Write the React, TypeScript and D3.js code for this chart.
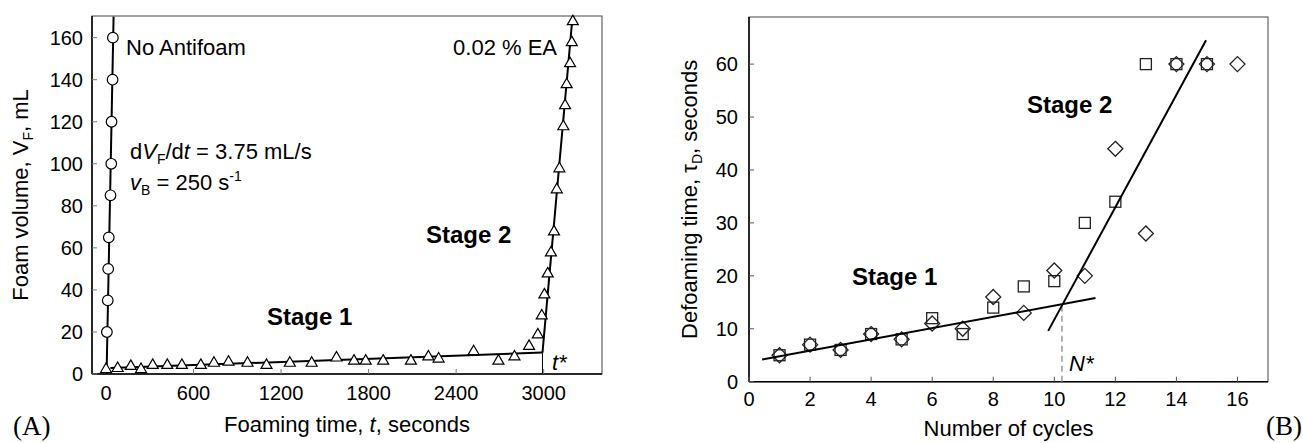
import React from "react";
import * as d3 from "d3";

// ---------- Panel A data ----------
const noAfTime = [6, 12, 15, 19, 31, 36, 38, 45, 47];
const noAfVol = [20, 35, 50, 65, 85, 100, 120, 140, 160];
const noAfFitT = [4, 52];
const noAfFitV = [0, 170];

const eaTime = [0, 80, 170, 240, 320, 420, 520, 650, 740, 840, 970, 1100, 1260, 1410, 1580, 1700, 1780, 1900, 2090, 2210, 2280, 2520, 2690, 2800, 2900, 2960, 2987, 3005, 3028, 3050, 3071, 3090, 3108, 3135, 3147, 3158, 3181, 3193, 3200];
const eaVol = [2.5, 3, 4, 2.5, 4.5, 4.5, 4.5, 4.5, 5.5, 6, 5.5, 4.5, 5.5, 5.5, 8, 6.5, 6.5, 6.5, 6.5, 8.5, 7.5, 11, 6.5, 8.5, 13.5, 19, 28, 38, 48, 58, 68, 88, 98, 118, 128, 138, 148, 158, 168];
const stage1FitT = [30, 2992];
const stage1FitV = [2.8, 10.2];
const stage2FitT = [2992, 3198];
const stage2FitV = [10.2, 170];
const tStarT = [2992, 2992];
const tStarV = [0, 10.2];

const xTicksA = [0, 600, 1200, 1800, 2400, 3000];
const yTicksA = [0, 20, 40, 60, 80, 100, 120, 140, 160];

// ---------- Panel B data ----------
const sqCycles = [1, 2, 3, 4, 5, 6, 7, 8, 9, 10, 11, 12, 13, 14, 15];
const sqTime = [5, 7, 6, 9, 8, 12, 9, 14, 18, 19, 30, 34, 60, 60, 60];
const diCycles = [1, 2, 3, 4, 5, 6, 7, 8, 9, 10, 11, 12, 13, 14, 15, 16];
const diTime = [5, 7, 6, 9, 8, 11, 10, 16, 13, 21, 20, 44, 28, 60, 60, 60];
const bStage1N = [0.43, 11.35];
const bStage1T = [4.2, 15.8];
const bStage2N = [9.8, 14.97];
const bStage2T = [9.6, 64.5];
const nStarN = [10.25, 10.25];
const nStarT = [0, 14.7];

const xTicksB = [0, 2, 4, 6, 8, 10, 12, 14, 16];
const yTicksB = [0, 10, 20, 30, 40, 50, 60];

const FONT = "Liberation Sans, Arial, Helvetica, sans-serif";

export default function App() {
  // Panel A geometry
  const aL = 92, aR = 602, aT = 16, aB = 374;
  const xA = d3.scaleLinear().domain([-96, 3400]).range([aL, aR]);
  const yA = d3.scaleLinear().domain([0, 170.3]).range([aB, aT]);

  // Panel B geometry
  const bL = 749, bR = 1268, bT = 17, bB = 381.7;
  const xB = d3.scaleLinear().domain([0, 17]).range([bL, bR]);
  const yB = d3.scaleLinear().domain([0, 68.9]).range([bB, bT]);

  const lineA = d3.line<[number, number]>().x((d) => xA(d[0])).y((d) => yA(d[1]));
  const lineB = d3.line<[number, number]>().x((d) => xB(d[0])).y((d) => yB(d[1]));
  const zip = (a: number[], b: number[]) => a.map((v, i) => [v, b[i]] as [number, number]);

  const tri = (cx: number, cy: number) => {
    const h = 9.5, w = 11;
    return `M${cx},${cy - h * 0.6} L${cx + w / 2},${cy + h * 0.4} L${cx - w / 2},${cy + h * 0.4} Z`;
  };
  const diamond = (cx: number, cy: number) => {
    const r = 7.5;
    return `M${cx},${cy - r} L${cx + r},${cy} L${cx},${cy + r} L${cx - r},${cy} Z`;
  };

  const tickFs = 20;
  const labFs = 22;

  return (
    <svg width={1303} height={443} style={{ position: "absolute", left: 0, top: 0, background: "#fff" }} fontFamily={FONT}>
      <rect x={0} y={0} width={1303} height={443} fill="#fff" />
      {/* ===== Panel A ===== */}
      <rect x={aL} y={aT} width={aR - aL} height={aB - aT} fill="none" stroke="#444" strokeWidth={1} />
      <line x1={aL} y1={aT} x2={aL} y2={aB} stroke="#000" strokeWidth={1.5} />
      <line x1={aL} y1={aB} x2={aR} y2={aB} stroke="#000" strokeWidth={1.5} />
      {xTicksA.map((t) => (
        <g key={"xa" + t}>
          <line x1={xA(t)} x2={xA(t)} y1={aB} y2={aB - 5} stroke="#777" strokeWidth={1} />
          <text x={xA(t)} y={400} fontSize={tickFs} textAnchor="middle">{t}</text>
        </g>
      ))}
      {yTicksA.map((v) => (
        <g key={"ya" + v}>
          <line x1={aL} x2={aL + 5} y1={yA(v)} y2={yA(v)} stroke="#777" strokeWidth={1} />
          <text x={83} y={yA(v) + 7} fontSize={tickFs} textAnchor="end">{v}</text>
        </g>
      ))}
      {/* fit lines */}
      <path d={lineA(zip(noAfFitT, noAfFitV))!} stroke="#000" strokeWidth={2} fill="none" />
      <path d={lineA(zip(stage1FitT, stage1FitV))!} stroke="#000" strokeWidth={2} fill="none" />
      <path d={lineA(zip(stage2FitT, stage2FitV))!} stroke="#000" strokeWidth={2} fill="none" />
      <path d={lineA(zip(tStarT, tStarV))!} stroke="#000" strokeWidth={1} fill="none" />
      {/* markers */}
      {eaTime.map((t, i) => (
        <path key={"tr" + i} d={tri(xA(t), yA(eaVol[i]))} fill="#fff" stroke="#000" strokeWidth={1.2} />
      ))}
      {noAfTime.map((t, i) => (
        <circle key={"c" + i} cx={xA(t)} cy={yA(noAfVol[i])} r={5.3} fill="#fff" stroke="#000" strokeWidth={1.2} />
      ))}
      {/* annotations */}
      <text x={126} y={55} fontSize={labFs}>No Antifoam</text>
      <text x={557} y={55} fontSize={labFs} textAnchor="end">0.02 % EA</text>
      <text x={130} y={159} fontSize={labFs}>
        d<tspan fontStyle="italic">V</tspan>
        <tspan fontSize={14} dy={5}>F</tspan>
        <tspan dy={-5}>/d</tspan>
        <tspan fontStyle="italic">t</tspan> = 3.75 mL/s
      </text>
      <text x={130} y={190} fontSize={labFs}>
        <tspan fontStyle="italic">v</tspan>
        <tspan fontSize={14} dy={5}>B</tspan>
        <tspan dy={-5}> = 250 s</tspan>
        <tspan fontSize={14} dy={-9}>-1</tspan>
      </text>
      <text x={426} y={243} fontSize={24} fontWeight="bold">Stage 2</text>
      <text x={267} y={325} fontSize={24} fontWeight="bold">Stage 1</text>
      <text x={552} y={370} fontSize={labFs} fontStyle="italic">t*</text>
      <text x={(aL + aR) / 2} y={432} fontSize={labFs} textAnchor="middle">
        Foaming time, <tspan fontStyle="italic">t</tspan>, seconds
      </text>
      <text transform={`translate(28,${(aT + aB) / 2}) rotate(-90)`} fontSize={labFs} textAnchor="middle">
        Foam volume, V<tspan fontSize={14} dy={5}>F</tspan><tspan dy={-5}>, mL</tspan>
      </text>
      <text x={13} y={435} fontSize={27} fontFamily="Liberation Serif, Times New Roman, serif">(A)</text>

      {/* ===== Panel B ===== */}
      <rect x={bL} y={bT} width={bR - bL} height={bB - bT} fill="none" stroke="#444" strokeWidth={1} />
      <line x1={bL} y1={bT} x2={bL} y2={bB} stroke="#000" strokeWidth={1.5} />
      <line x1={bL} y1={bB} x2={bR} y2={bB} stroke="#000" strokeWidth={1.5} />
      {xTicksB.map((t) => (
        <g key={"xb" + t}>
          <line x1={xB(t)} x2={xB(t)} y1={bB} y2={bB - 5} stroke="#555" strokeWidth={1} />
          <text x={xB(t)} y={406} fontSize={tickFs} textAnchor="middle">{t}</text>
        </g>
      ))}
      {yTicksB.map((v) => (
        <g key={"yb" + v}>
          <line x1={bL} x2={bL + 5} y1={yB(v)} y2={yB(v)} stroke="#555" strokeWidth={1} />
          <text x={738} y={yB(v) + 7} fontSize={tickFs} textAnchor="end">{v}</text>
        </g>
      ))}
      <path d={lineB(zip(nStarN, nStarT))!} stroke="#999" strokeWidth={1.5} strokeDasharray="6,4" fill="none" />
      {sqCycles.map((n, i) => (
        <rect key={"sq" + i} x={xB(n) - 5.5} y={yB(sqTime[i]) - 5.5} width={11} height={11} fill="none" stroke="#222" strokeWidth={1.3} />
      ))}
      {diCycles.map((n, i) => (
        <path key={"di" + i} d={diamond(xB(n), yB(diTime[i]))} fill="none" stroke="#222" strokeWidth={1.3} />
      ))}
      <path d={lineB(zip(bStage1N, bStage1T))!} stroke="#000" strokeWidth={2} fill="none" />
      <path d={lineB(zip(bStage2N, bStage2T))!} stroke="#000" strokeWidth={2} fill="none" />
      <text x={852} y={285} fontSize={24} fontWeight="bold">Stage 1</text>
      <text x={1027} y={113} fontSize={24} fontWeight="bold">Stage 2</text>
      <text x={1069} y={371} fontSize={labFs} fontStyle="italic">N*</text>
      <text x={(bL + bR) / 2} y={436} fontSize={labFs} textAnchor="middle">Number of cycles</text>
      <text transform={`translate(697,${(bT + bB) / 2}) rotate(-90)`} fontSize={labFs} textAnchor="middle">
        Defoaming time, τ<tspan fontSize={14} dy={5}>D</tspan><tspan dy={-5}>, seconds</tspan>
      </text>
      <text x={1302} y={435} fontSize={27} textAnchor="end" fontFamily="Liberation Serif, Times New Roman, serif">(B)</text>
    </svg>
  );
}
